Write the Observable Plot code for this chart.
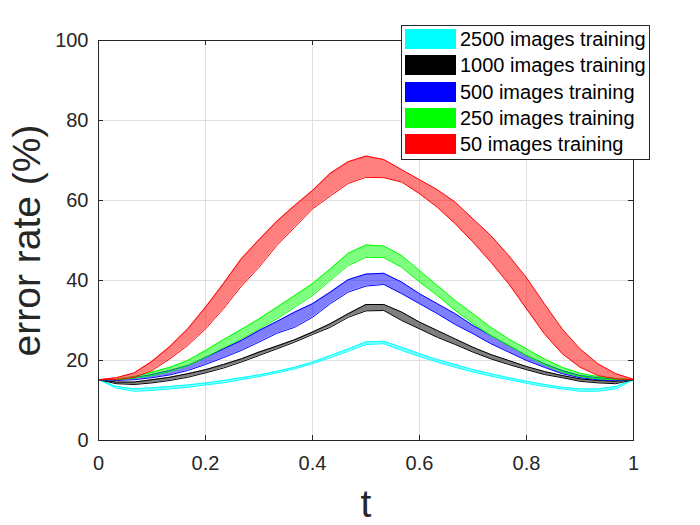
<!DOCTYPE html>
<html>
<head>
<meta charset="utf-8">
<script src="https://cdn.jsdelivr.net/npm/d3@7"></script>
<script src="https://cdn.jsdelivr.net/npm/@observablehq/plot@0.6"></script>
<style>
  body { margin: 0; background: white; }
  #wrap { position: relative; width: 700px; height: 525px; font-family: "Liberation Sans", Arial, sans-serif; }
  #legend { position: absolute; left: 401px; top: 25px; width: 247px; height: 133px; border: 1px solid #262626; background: white; box-sizing: content-box; }
  .row { position: absolute; left: 3px; height: 20px; display: flex; align-items: center; }
  .sw { width: 51px; height: 20px; }
  .lbl { margin-left: 4px; font-size: 20px; color: #000; white-space: nowrap; line-height: 20px; }
</style>
</head>
<body>
<div id="wrap"><div id="chart"></div><div id="legend"></div></div>
<script>
const t = [0, 0.0333, 0.0667, 0.1, 0.1333, 0.1667, 0.2, 0.2333, 0.2667, 0.3, 0.3333, 0.3667, 0.4, 0.4333, 0.4667, 0.5, 0.5333, 0.5667, 0.6, 0.6333, 0.6667, 0.7, 0.7333, 0.7667, 0.8, 0.8333, 0.8667, 0.9, 0.9333, 0.9667, 1];

const seriesNames = ["2500 images training", "1000 images training", "500 images training", "250 images training", "50 images training"];
const seriesColors = ["#00ffff", "#000000", "#0000ff", "#00ff00", "#ff0000"];

const upper2500 = [15.2,13.5,12.9,13.2,13.5,13.9,14.4,15,15.7,16.4,17.3,18.3,19.6,21.25,22.9,24.7,24.8,23.3,21.7,20.25,19,17.7,16.7,15.7,14.8,14,13.3,12.9,12.9,13.5,15.2];
const lower2500 = [15.2,13.1,12.3,12.5,12.9,13.3,13.9,14.4,15.2,16,16.9,17.9,19.2,20.7,22.3,24,24.2,22.5,21,19.6,18.3,17.1,16.1,15.2,14.3,13.5,12.9,12.3,12.3,12.9,15.2];
const upper1000 = [15.2,14.6,14.6,15.2,15.8,16.7,17.7,19,20.4,22.1,23.6,25.2,27.1,29.2,31.7,34,34,32.1,29.6,27.5,25.4,23.3,21.5,20,18.5,17.25,16.25,15.4,15,14.8,15.2];
const lower1000 = [15.2,14.2,14,14.4,15,15.8,16.9,18.1,19.6,21.25,22.9,24.6,26.5,28.3,30.8,32.4,32.5,30,27.9,25.8,24,22.1,20.4,19,17.7,16.5,15.7,14.8,14.4,14.2,15.2];
const upper500 = [15.2,15.2,15.7,16.5,17.5,18.75,20.8,22.9,25,27.5,29.75,32.1,34.2,37.1,40.2,41.6,41.8,39.6,36.7,34.2,31.7,28.75,26.25,23.75,21.25,19.2,17.5,16.25,15.7,15.3,15.2];
const lower500 = [15.2,15,15.2,15.7,16.4,17.5,19,20.7,22.5,24.6,26.8,28.3,30.8,34.2,37.1,38.6,39,36.7,34.2,31.7,29,26.7,24.2,22.1,20,18.3,16.7,15.7,15.2,15,15.2];
const upper250 = [15.2,15.3,16,17.1,18.3,20,22.5,25.2,27.75,30.4,33.3,36.25,39.2,42.9,46.8,48.9,48.6,46.25,42.5,38.75,35,31.7,28.3,25.4,22.9,20.4,18.3,16.8,16,15.5,15.2];
const lower250 = [15.2,15.2,15.6,16.25,17.25,18.7,20.8,23.2,25.4,27.9,30.4,33.3,36.25,40,43.75,45.8,45.7,43.3,39.6,36.25,32.5,29.2,26.25,23.75,21.25,19,17.1,16,15.4,15.2,15.2];
const upper50 = [15.2,15.7,16.9,19.8,23.5,27.9,33.3,39.2,45.4,50.2,54.8,58.75,62.5,66.8,69.7,71.1,70.25,67.7,65.2,62.7,59.6,55.4,51.25,46.25,40.7,34.2,27.9,22.9,19.2,16.7,15.3];
const lower50 = [15.2,15.25,15.8,17.5,20.4,23.75,27.9,32.9,38.5,43.3,48.75,53.3,57.9,61.1,64.25,65.8,65.7,64.6,61.7,58.3,54.2,49.6,44.6,39.2,32.9,26.7,21.7,18.3,16.25,15.4,15.2];

const xTicks = [0, 0.2, 0.4, 0.6, 0.8, 1];
const xTickLabels = ["0", "0.2", "0.4", "0.6", "0.8", "1"];
const yTicks = [0, 20, 40, 60, 80, 100];

const uppers = [upper2500, upper1000, upper500, upper250, upper50];
const lowers = [lower2500, lower1000, lower500, lower250, lower50];

const W = 700, H = 525, mL = 98, mR = 67, mT = 40, mB = 85;
const pw = W - mL - mR, ph = H - mT - mB;

const bandMarks = [];
seriesNames.forEach((name, i) => {
  const rows = t.map((tt, j) => ({t: tt, lo: lowers[i][j], hi: uppers[i][j]}));
  const c = seriesColors[i];
  bandMarks.push(Plot.areaY(rows, {x: "t", y1: "lo", y2: "hi", fill: c, fillOpacity: 0.5}));
  bandMarks.push(Plot.lineY(rows, {x: "t", y: "hi", stroke: c, strokeWidth: 1}));
  bandMarks.push(Plot.lineY(rows, {x: "t", y: "lo", stroke: c, strokeWidth: 1}));
});

const tickColor = "#262626";
const chart = Plot.plot({
  width: W, height: H,
  marginLeft: mL, marginRight: mR, marginTop: mT, marginBottom: mB,
  style: {fontFamily: '"Liberation Sans", Arial, sans-serif', fontSize: "20px", color: tickColor, background: "white"},
  x: {domain: [0, 1]},
  y: {domain: [0, 100]},
  marks: [
    Plot.gridX(xTicks, {stroke: "#dfdfdf", strokeOpacity: 1}),
    Plot.gridY(yTicks, {stroke: "#dfdfdf", strokeOpacity: 1}),
    ...bandMarks,
    Plot.tickX(xTicks, {x: d => d, insetTop: ph - 5, stroke: tickColor}),
    Plot.tickX(xTicks, {x: d => d, insetBottom: ph - 5, stroke: tickColor}),
    Plot.tickY(yTicks, {y: d => d, insetRight: pw - 5, stroke: tickColor}),
    Plot.tickY(yTicks, {y: d => d, insetLeft: pw - 5, stroke: tickColor}),
    Plot.frame({stroke: tickColor}),
    Plot.axisX(xTicks, {tickSize: 0, tickPadding: 15, fontSize: 20, label: null, fill: tickColor,
      tickFormat: d => xTickLabels[xTicks.indexOf(d)]}),
    Plot.axisY(yTicks, {tickSize: 0, tickPadding: 10, fontSize: 20, label: null, fill: tickColor}),
    Plot.text(["t"], {frameAnchor: "bottom", dy: 76, lineAnchor: "bottom", fontSize: 39, fill: tickColor}),
    Plot.text(["error rate (%)"], {frameAnchor: "left", dx: -59, rotate: -90, lineAnchor: "bottom", textAnchor: "middle", fontSize: 39, fill: tickColor})
  ]
});
document.getElementById("chart").appendChild(chart);

const legend = document.getElementById("legend");
seriesNames.forEach((name, i) => {
  const row = document.createElement("div");
  row.className = "row";
  row.style.top = (3 + i * 26.3) + "px";
  const sw = document.createElement("div");
  sw.className = "sw";
  sw.style.background = seriesColors[i];
  const lbl = document.createElement("span");
  lbl.className = "lbl";
  lbl.textContent = name;
  row.appendChild(sw);
  row.appendChild(lbl);
  legend.appendChild(row);
});
</script>
</body>
</html>
